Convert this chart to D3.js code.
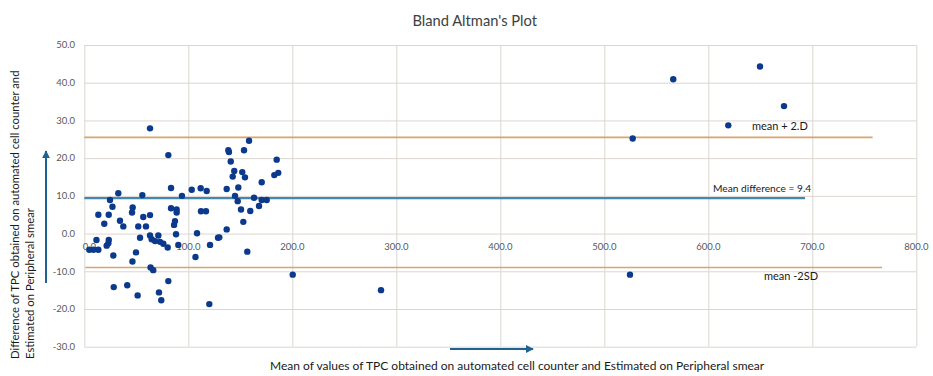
<!DOCTYPE html>
<html>
<head>
<meta charset="utf-8">
<script src="https://cdn.jsdelivr.net/npm/d3@7"></script>
<style>
  body { margin: 0; background: #fff; }
  text { font-family: Lato, "Open Sans", sans-serif; }
</style>
</head>
<body>
<svg id="chart" width="933" height="376"></svg>
<script>
// mean of the two methods (x) and their difference (y)
const meanValues = [
  24.7, 32.7, 27.1, 46.5, 45.9, 55.8, 63.2, 80.8, 83.4, 93.9,
  103.3, 111.9, 117.7, 83.4, 88.8, 88.8, 13.5, 23.5, 19.2, 34.3,
  37.5, 56.7, 63.2, 51.9, 59.3, 53.6, 87.2, 86.3, 88.2, 108.4,
  112.2, 117.0, 63.2, 64.8, 68.0, 71.2, 72.8, 76.0, 80.2, 90.4,
  120.9, 128.6, 11.7, 23.5, 23.1, 21.5, 4.8, 8.8, 13.5, 27.9,
  49.7, 46.3, 63.7, 66.3, 80.8, 106.9, 28.3, 41.3, 51.3, 71.8,
  74.0, 120.2, 158.4, 153.6, 138.5, 139.1, 140.8, 185.0, 144.2, 142.7,
  151.9, 154.5, 182.7, 186.5, 170.6, 136.9, 148.1, 144.9, 147.5, 163.2,
  170.6, 175.4, 168.0, 150.7, 159.6, 152.9, 136.9, 129.8, 156.7, 200.4,
  285.3, 527.3, 566.3, 619.2, 649.7, 672.8, 524.7
];
const diffValues = [
  8.9, 10.7, 7.1, 6.9, 5.6, 10.2, 27.9, 20.8, 12.1, 10.0,
  11.6, 12.0, 11.3, 6.7, 6.4, 5.6, 5.0, 5.0, 2.6, 3.4,
  1.9, 4.4, 4.9, 1.9, 1.9, -1.1, 3.3, 2.3, -0.2, 0.1,
  5.9, 5.9, -0.5, -1.5, -2.0, -0.5, -2.2, -2.7, -3.7, -3.0,
  -3.0, -1.1, -1.7, -1.7, -2.6, -3.2, -4.3, -4.3, -4.3, -5.8,
  -5.0, -7.4, -9.0, -9.7, -12.6, -6.2, -14.2, -13.7, -16.4, -15.6,
  -17.7, -18.7, 24.6, 22.1, 22.1, 21.6, 19.1, 19.6, 16.6, 15.1,
  16.3, 14.9, 15.5, 16.1, 13.6, 11.8, 12.2, 10.0, 8.6, 9.5,
  8.9, 8.9, 7.3, 6.4, 6.0, 3.1, 1.1, -1.0, -4.8, -10.9,
  -15.0, 25.2, 40.9, 28.7, 44.3, 33.8, -10.9
];

// reference lines: [value, x start, x end]
const meanDiff = [9.4, 0, 693];
const upperLimit = [25.5, 0, 758];
const lowerLimit = [-9.0, 1, 767];

const xTicks = [0, 100, 200, 300, 400, 500, 600, 700, 800];
const yTicks = [-30, -20, -10, 0, 10, 20, 30, 40, 50];

const svg = d3.select('#chart');

const x = d3.scaleLinear().domain([0, 800]).range([84.3, 916.3]);
const y = d3.scaleLinear().domain([-30, 50]).range([346.7, 45]);

// grid
svg.append('g')
  .attr('transform', `translate(${x(0)},0)`)
  .call(d3.axisLeft(y).tickValues(yTicks).tickSize(-(x(800) - x(0))).tickFormat(''))
  .call(g => g.select('.domain').remove())
  .selectAll('line').attr('stroke', '#dcd6d0').attr('stroke-width', 1);

svg.append('g')
  .attr('transform', `translate(0,${y(-30)})`)
  .call(d3.axisBottom(x).tickValues(xTicks).tickSize(-(y(-30) - y(50))).tickFormat(''))
  .call(g => g.select('.domain').remove())
  .selectAll('line').attr('stroke', '#dcd6d0').attr('stroke-width', 1);

// y tick labels
svg.append('g')
  .selectAll('text')
  .data(yTicks)
  .enter()
  .append('text')
    .attr('x', 75)
    .attr('y', d => y(d))
    .attr('dy', '0.35em')
    .attr('text-anchor', 'end')
    .attr('font-size', 9.5)
    .attr('fill', '#595959')
    .text(d => d.toFixed(1));

// x tick labels sit next to the zero line
svg.append('g')
  .selectAll('text')
  .data(xTicks)
  .enter()
  .append('text')
    .attr('x', d => d === 0 ? x(d) + 5 : x(d))
    .attr('y', y(0) + 13)
    .attr('dy', '0.35em')
    .attr('text-anchor', 'middle')
    .attr('font-size', 9.5)
    .attr('fill', '#595959')
    .text(d => d.toFixed(1));

// limit lines
function refLine(d, color, width) {
  svg.append('line')
    .attr('x1', x(d[1]))
    .attr('x2', x(d[2]))
    .attr('y1', y(d[0]))
    .attr('y2', y(d[0]))
    .attr('stroke', color)
    .attr('stroke-width', width);
}
refLine(upperLimit, '#dba36c', 1.6);
refLine(lowerLimit, '#dba36c', 1.6);
refLine(meanDiff, '#4189b3', 2.2);

// points
svg.append('g')
  .selectAll('circle')
  .data(meanValues.map((m, i) => ({ x: m, y: diffValues[i] })))
  .enter()
  .append('circle')
    .attr('cx', d => x(d.x))
    .attr('cy', d => y(d.y))
    .attr('r', 3.2)
    .attr('fill', '#0b3a8c');

// line labels
svg.append('text')
  .attr('x', 752).attr('y', 126).attr('dy', '0.35em')
  .attr('font-size', 11).attr('fill', '#1a1a1a')
  .text('mean + 2.D');
svg.append('text')
  .attr('x', 713).attr('y', 188).attr('dy', '0.35em')
  .attr('font-size', 10.2).attr('fill', '#1a1a1a')
  .text('Mean difference = 9.4');
svg.append('text')
  .attr('x', 764).attr('y', 276).attr('dy', '0.35em')
  .attr('font-size', 11).attr('fill', '#1a1a1a')
  .text('mean -2SD');

// title
svg.append('text')
  .attr('x', 474.7).attr('y', 21).attr('dy', '0.35em')
  .attr('text-anchor', 'middle')
  .attr('font-size', 14.7).attr('fill', '#404040')
  .text("Bland Altman's Plot");

// axis titles
const yTitle = svg.append('text')
  .attr('transform', 'translate(19,359) rotate(-90)')
  .attr('font-size', 11.3).attr('fill', '#1a1a1a');
yTitle.append('tspan').attr('x', 0).attr('y', 0)
  .text('Difference of TPC obtained on automated cell counter and');
yTitle.append('tspan').attr('x', 0).attr('y', 15)
  .text('Estimated on Peripheral smear');

svg.append('text')
  .attr('x', 270).attr('y', 366).attr('dy', '0.35em')
  .attr('font-size', 12).attr('fill', '#1a1a1a')
  .text('Mean of values of TPC obtained on automated cell counter and Estimated on Peripheral smear');

// arrows
svg.append('defs').append('marker')
  .attr('id', 'arrow')
  .attr('viewBox', '0 0 10 10')
  .attr('refX', 9).attr('refY', 5)
  .attr('markerWidth', 4).attr('markerHeight', 4)
  .attr('orient', 'auto')
  .append('path')
    .attr('d', 'M0,0L10,5L0,10Z')
    .attr('fill', '#1f6391');

svg.append('line')
  .attr('x1', 46).attr('y1', 283).attr('x2', 46).attr('y2', 151)
  .attr('stroke', '#1f6391').attr('stroke-width', 2)
  .attr('marker-end', 'url(#arrow)');
svg.append('line')
  .attr('x1', 450).attr('y1', 349).attr('x2', 533).attr('y2', 349)
  .attr('stroke', '#1f6391').attr('stroke-width', 2)
  .attr('marker-end', 'url(#arrow)');
</script>
</body>
</html>
